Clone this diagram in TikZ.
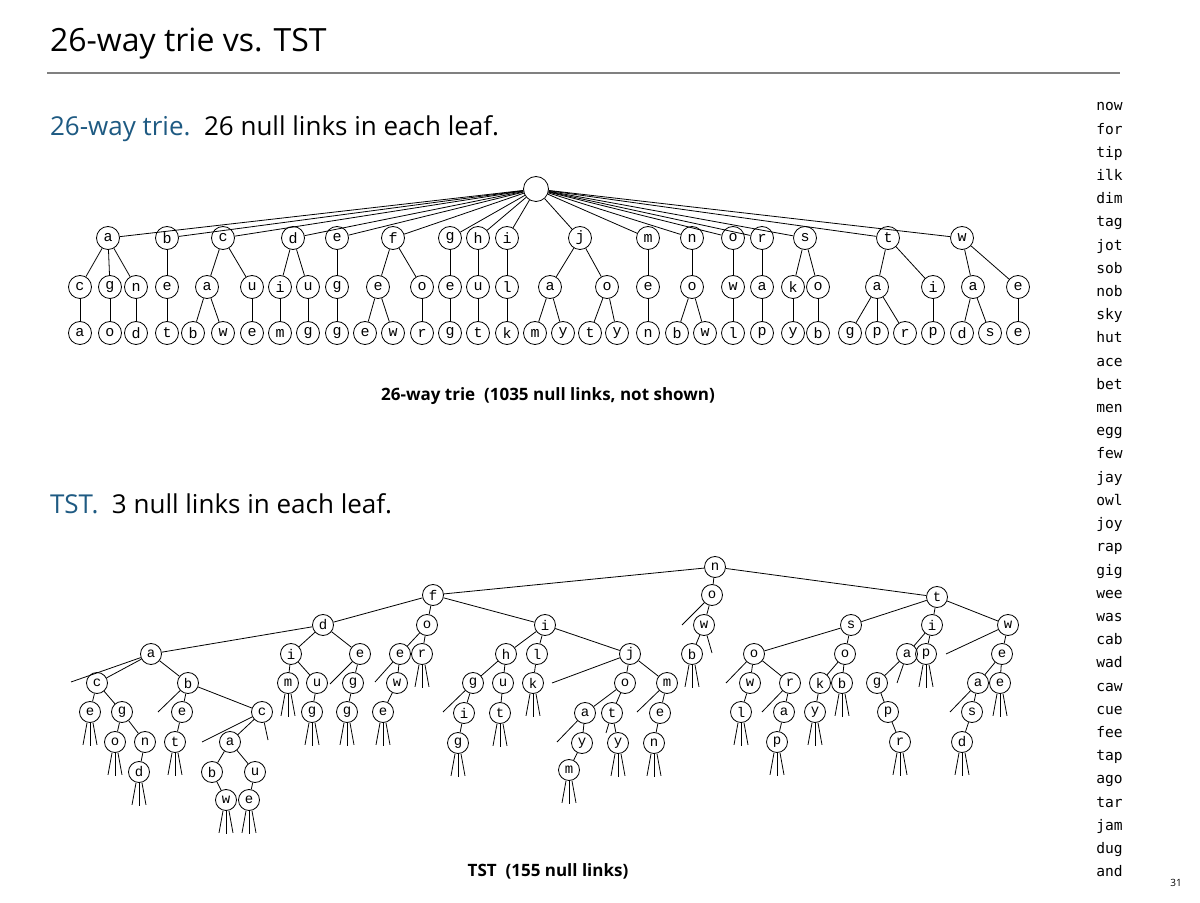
\documentclass[tikz,border=0pt]{standalone}
\usepackage{fontspec}
\setmainfont{Open Sans}
\newfontfamily\monofont{DejaVu Sans Mono}
\newfontfamily\nodefont{Liberation Mono}
\definecolor{hdblue}{RGB}{30,90,130}
\begin{document}
\begin{tikzpicture}[x=0.5pt,y=-0.5pt,
  tn/.style={circle,draw,line width=0.4pt,minimum size=11.5pt,inner sep=0pt,font=\nodefont\fontsize{7.5}{8}\selectfont},
  sn/.style={circle,draw,line width=0.4pt,minimum size=10.5pt,inner sep=0pt,font=\nodefont\fontsize{7}{8}\selectfont},
  ln/.style={line width=0.4pt}]
\useasboundingbox[fill=white] (0,0) rectangle (1200,903);
% header
\node[anchor=west,font=\fontsize{16}{18}\selectfont] (title) at (43,44) {26-way trie vs. TST};
\draw[gray,line width=0.6pt] (47,73) -- (1120,73);
\node[anchor=west,font=\fontsize{13}{15}\selectfont] (h1) at (43,129) {\textcolor{hdblue}{26-way trie.}\ \ 26 null links in each leaf.};
\node[anchor=west,font=\fontsize{13}{15}\selectfont] (h2) at (43,504) {\textcolor{hdblue}{TST.}\ \ 3 null links in each leaf.};
\node[font=\bfseries\fontsize{8.5}{9}\selectfont] (c1) at (548,396) {26-way trie\ \ (1035 null links, not shown)};
\node[font=\bfseries\fontsize{8.5}{9}\selectfont] (c2) at (548,871) {TST\ \ (155 null links)};
\node[font=\fontsize{5}{6}\selectfont] (pg) at (1176,883) {31};
% word list
\foreach \w [count=\i from 0] in {now,for,tip,ilk,dim,tag,jot,sob,nob,sky,hut,ace,bet,men,egg,few,jay,owl,joy,rap,gig,wee,was,cab,wad,caw,cue,fee,tap,ago,tar,jam,dug,and}
  \node[anchor=base west,inner sep=0pt,font=\monofont\fontsize{7.3}{8}\selectfont] (w\i) at (1096,{111+23.2*\i}) {\w};
% ---------- 26-way trie ----------
\node[tn,minimum size=12.5pt] (root) at (536,189) {};
\foreach \x/\l in {108/a,167/b,223/c,293/d,337/e,393/f,450/g,478/h,507/i,580/j,648/m,692/n,733/o,762/r,805/s,888/t,962/w}{
  \node[tn] (t1-\l) at (\x,238) {\l};
  \draw[ln] (root) -- (t1-\l);
}
\foreach \x/\l/\p in {80/c/a,110/g/a,136/n/a,167/e/b,207/a/c,252/u/c,280/i/d,308/u/d,337/g/e,378/e/f,422/o/f,450/e/g,478/u/h,507/l/i,550/a/j,607/o/j,648/e/m,692/o/n,733/w/o,762/a/r,793/k/s,818/o/s,877/a/t,933/i/t,973/a/w,1018/e/w}{
  \node[tn] (t2-\x) at (\x,287) {\l};
  \draw[ln] (t1-\p) -- (t2-\x);
}
\foreach \x/\l/\p in {80/a/80,110/o/110,136/d/136,167/t/167,193/b/207,223/w/207,252/e/252,280/m/280,308/g/308,337/g/337,365/e/378,393/w/378,422/r/422,450/g/450,478/t/478,507/k/507,535/m/550,563/y/550,590/t/607,617/y/607,648/n/648,677/b/692,705/w/692,733/l/733,762/p/762,793/y/793,818/b/818,850/g/877,877/p/877,905/r/877,933/p/933,962/d/973,990/s/973,1018/e/1018}{
  \node[tn] (t3-\x) at (\x,333) {\l};
  \draw[ln] (t2-\p) -- (t3-\x);
}
% ---------- TST ----------
\foreach \n/\x/\y/\l in {
 N/715/567/n, F/433/595/f, O1/712/595/o, T/937/597/t,
 D/323/625/d, O2/427/625/o, I/545/625/i, W1/704/625/w, S/851/625/s, I2/932/625/i, W2/1008/625/w,
 A/151/654/a, I3/291/654/i, E1/360/654/e, E2/400/654/e, R1/422/654/r, H/506/654/h, L/537/654/l, J/630/654/j, B1/692/654/b,
 O3/754/654/o, O4/845/654/o, A2/907/654/a, P1/926/654/p, E3/1002/654/e,
 C/97/683/c, B/188/683/b, M/288/683/m, U/317/683/u, G1/353/683/g, W3/397/683/w, G2/473/683/g, U2/503/683/u, K/533/683/k,
 O5/625/683/o, M2/667/683/m, W4/750/683/w, R2/790/683/r, K2/820/683/k, B2/842/683/b, G3/877/683/g, A3/978/683/a, E4/1000/683/e,
 E5/90/712/e, G4/122/712/g, E6/182/712/e, C2/262/712/c, G5/312/712/g, G6/347/712/g, E7/383/712/e,
 I4/464/713/i, T2/500/713/t, A4/585/713/a, T3/612/713/t, E8/660/713/e, L2/741/712/l, A5/784/712/a, Y1/815/712/y, P2/888/712/p, S2/972/712/s,
 O6/115/742/o, N2/145/742/n, T4/175/742/t, A6/230/742/a, G7/458/743/g, Y2/582/743/y, Y3/618/743/y, N3/654/743/n, P3/777/742/p, R3/900/742/r, D2/962/742/d,
 D3/139/772/d, B3/212/772/b, U3/255/772/u, M3/569/770/m,
 W5/226/800/w, E9/249/800/e}
  \node[sn] (\n) at (\x,\y) {\l};
\foreach \a/\b in {N/F,N/O1,N/T,F/D,F/O2,F/I,D/A,D/I3,D/E1,A/C,A/B,C/E5,C/G4,G4/O6,G4/N2,N2/D3,B/E6,B/C2,E6/T4,C2/A6,A6/B3,A6/U3,B3/W5,U3/E9,
  I3/M,I3/U,U/G5,E1/G1,G1/G6,O2/E2,O2/R1,E2/W3,W3/E7,I/H,I/L,I/J,H/G2,H/U2,G2/I4,I4/G7,U2/T2,L/K,J/O5,J/M2,O5/A4,O5/T3,A4/Y2,Y2/M3,T3/Y3,M2/E8,E8/N3,
  O1/W1,W1/B1,T/S,T/I2,T/W2,S/O3,S/O4,O3/W4,O3/R2,W4/L2,R2/A5,A5/P3,O4/K2,O4/B2,K2/Y1,I2/A2,I2/P1,A2/G3,G3/P2,P2/R3,W2/E3,E3/A3,E3/E4,A3/S2,S2/D2}
  \draw[ln] (\a) -- (\b);
% single null links
\foreach \n/\dx/\dy in {A/-80/28,E1/-30/30,E2/-25/28,O1/-30/30,W1/8/28,B/-30/29,C2/-60/30,C2/6/28,J/-78/29,G2/-30/29,A4/-28/29,T3/-6/20,M2/-30/29,O3/-28/29,R2/-28/29,A2/-10/29,W2/-62/29,A3/-28/29}
  \draw[ln] (\n) -- ++(\dx,\dy);
% triple null links under leaves
\foreach \n in {E5,O6,D3,T4,W5,E9,M,G5,G6,E7,R1,G7,T2,K,M3,Y3,N3,B1,L2,P3,Y1,B2,R3,P1,E4,D2}{
  \draw[ln] ([xshift=-1.5pt]\n.south) -- ++(-4,22);
  \draw[ln] (\n.south) -- ++(0,23);
  \draw[ln] ([xshift=1.5pt]\n.south) -- ++(4,22);
}
\end{tikzpicture}
\end{document}
